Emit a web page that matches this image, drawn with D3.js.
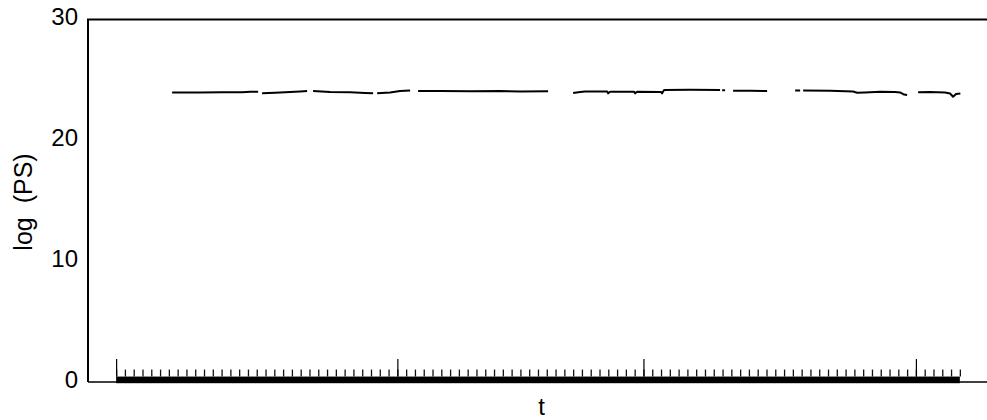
<!DOCTYPE html>
<html>
<head>
<meta charset="utf-8">
<script src="https://cdn.jsdelivr.net/npm/d3@7"></script>
<style>
  html, body { margin: 0; padding: 0; background: #fff; }
  svg { display: block; }
  text { font-family: "Liberation Sans", Arial, sans-serif; fill: #000; }
</style>
</head>
<body>
<svg id="chart" width="987" height="420"></svg>
<script>
// ---- data ----
const yTickValues = [0, 10, 20, 30];
const sampleTicks = d3.range(0, 97);          // small sample ticks, t = 0..96
const majorTicks = [0, 32, 60, 91];           // taller ticks
const tValues = [
  6.37, 9.56, 12.0, 14.34, 15.25, 16.16, null,
  16.61, 18.09, 19.80, 20.94, 21.73, null,
  22.41, 24.35, 26.62, 28.33, 29.24, null,
  29.70, 31.18, 32.31, 33.45, null,
  34.36, 36.86, 40.28, 43.69, 45.97, 49.15, null,
  52.00, 52.80, 53.36, 55.87, 55.98, 56.21, 58.94, 59.05, 59.28, 62.01, 62.12, 62.35, 65.31, 68.72, null,
  68.95, 69.29, null,
  70.20, 72.13, 74.07, null,
  77.26, 77.83, null,
  78.17, 81.24, 83.86, 84.31, 85.22, 86.93, 88.63, 89.20, 89.66, 90.00, null,
  91.25, 92.61, 94.32, 94.89, 95.23, 95.57, 96.06
];
const psValues = [
  23.96, 23.96, 23.97, 23.98, 24.03, 24.02, null,
  23.89, 23.93, 24.00, 24.04, 24.08, null,
  24.08, 24.00, 23.98, 23.92, 23.89, null,
  23.89, 23.96, 24.08, 24.12, null,
  24.08, 24.08, 24.06, 24.08, 24.04, 24.06, null,
  23.92, 24.00, 24.04, 24.04, 23.89, 24.02, 24.02, 23.89, 24.02, 24.00, 23.89, 24.17, 24.18, 24.17, null,
  24.15, 24.15, null,
  24.10, 24.10, 24.09, null,
  24.12, 24.12, null,
  24.12, 24.10, 24.04, 23.94, 23.96, 24.02, 24.00, 23.96, 23.79, 23.75, null,
  23.98, 24.00, 23.96, 23.88, 23.61, 23.84, 23.88
];
const rugTop = 0.45, rugBottom = -0.1;

// ---- layout ----
const svg = d3.select("#chart");
const x = d3.scaleLinear().domain([-3.2, 100]).range([88, 995]);
const y = d3.scaleLinear().domain([0, 30]).range([382, 19.5]);

// frame: left & top
svg.append("path")
  .attr("d", `M${x(-3.2)},${y(0)}V${y(30)}H${x(100)}`)
  .attr("fill", "none").attr("stroke", "#000").attr("stroke-width", 2);

// bottom axis line
svg.append("line")
  .attr("x1", x(-3.2)).attr("x2", x(100))
  .attr("y1", y(0)).attr("y2", y(0))
  .attr("stroke", "#000").attr("stroke-width", 1.5);

// y axis labels
const yAxis = d3.axisLeft(y).tickValues(yTickValues).tickSize(0).tickPadding(10).tickFormat(d3.format("d"));
const ya = svg.append("g").attr("transform", `translate(${x(-3.2)},0)`).call(yAxis);
ya.select(".domain").remove();
ya.selectAll("text").attr("font-size", 24).attr("dy", "0.22em")
  .style("font-family", '"Liberation Sans", Arial, sans-serif').attr("fill", "#000");

// thick rug bar
svg.append("rect")
  .attr("x", x(0)).attr("width", x(96) - x(0))
  .attr("y", y(rugTop)).attr("height", y(rugBottom) - y(rugTop))
  .attr("fill", "#000");

// sample ticks
const minorAxis = d3.axisTop(x).tickValues(sampleTicks).tickSize(7).tickFormat("");
const ma = svg.append("g").attr("transform", `translate(0,${y(rugTop)})`).call(minorAxis);
ma.select(".domain").remove();
ma.selectAll("line").attr("stroke", "#111").attr("stroke-width", 1.3);

const majorAxis = d3.axisTop(x).tickValues(majorTicks).tickSize(y(rugTop) - y(1.9)).tickFormat("");
const mja = svg.append("g").attr("transform", `translate(0,${y(rugTop)})`).call(majorAxis);
mja.select(".domain").remove();
mja.selectAll("line").attr("stroke", "#000").attr("stroke-width", 1.2);

// series line
const pts = tValues.map((t, i) => ({ t, v: psValues[i] }));
const line = d3.line()
  .defined(d => d.t !== null && d.v !== null)
  .x(d => x(d.t)).y(d => y(d.v));
svg.append("path").datum(pts)
  .attr("d", line)
  .attr("fill", "none").attr("stroke", "#000").attr("stroke-width", 2)
  .attr("stroke-linejoin", "round");

// axis titles
svg.append("text")
  .attr("x", 541.5).attr("y", 415)
  .attr("text-anchor", "middle").attr("font-size", 24)
  .text("t");
svg.append("text")
  .attr("transform", "translate(32,202) rotate(-90)")
  .attr("text-anchor", "middle").attr("font-size", 25)
  .style("white-space", "pre")
  .text("log  (PS)");
</script>
</body>
</html>
